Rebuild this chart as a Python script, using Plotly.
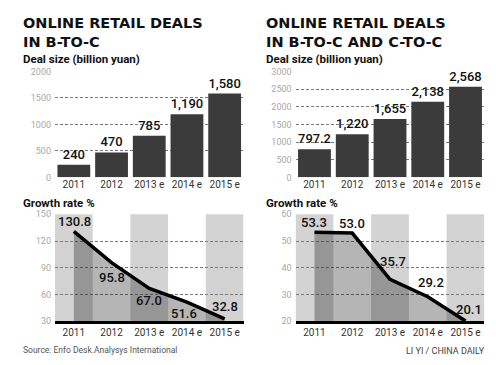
import plotly.graph_objects as go

W, H = 496, 365

categories = ["2011", "2012", "2013 e", "2014 e", "2015 e"]
b2c_deals = [240, 470, 785, 1190, 1580]
all_deals = [797.2, 1220, 1655, 2138, 2568]
b2c_growth = [130.8, 95.8, 67.0, 51.6, 32.8]
all_growth = [53.3, 53.0, 35.7, 29.2, 20.1]

top_ticks_left = [0, 500, 1000, 1500, 2000]
top_ticks_right = [0, 500, 1000, 1500, 2000, 2500, 3000]
bot_ticks_left = [30, 60, 90, 120, 150]
bot_ticks_right = [20, 30, 40, 50, 60]

# label offsets (pixels) for the growth-rate labels, relative to the point
b2c_label_shift = [(1, 10), (0, -15), (0, -12), (-3, -11), (0, 12)]
all_label_shift = [(0, 10), (0, 10), (3, 18), (3, 14), (3, 12)]

idx = list(range(len(categories)))

def px_x(a, b):
    return [a / W, b / W]

def px_y(top, bottom):
    return [1 - bottom / H, 1 - top / H]

LEFT_X = px_x(47, 235.5)
RIGHT_X = px_x(287.6, 476.4)
TOP_Y = px_y(60, 169)
BOT_Y = px_y(207, 317)

fig = go.Figure()

label_font = dict(family="Roboto", size=13, color="#111111", weight=500)

# top bars
fig.add_trace(go.Bar(x=idx, y=b2c_deals, xaxis="x", yaxis="y",
                     marker=dict(color="#3b3b3b", line=dict(width=0)),
                     text=b2c_deals, texttemplate="%{y:,}", textposition="outside",
                     textfont=label_font, cliponaxis=False, width=0.87))
fig.add_trace(go.Bar(x=idx, y=all_deals, xaxis="x2", yaxis="y2",
                     marker=dict(color="#3b3b3b", line=dict(width=0)),
                     text=all_deals, texttemplate="%{y:,}", textposition="outside",
                     textfont=label_font, cliponaxis=False, width=0.87))

# growth lines
for vals, xa, ya in ((b2c_growth, "x3", "y3"), (all_growth, "x4", "y4")):
    fig.add_trace(go.Scatter(x=idx, y=vals, xaxis=xa, yaxis=ya,
                             mode="lines", fill="tozeroy",
                             fillcolor="rgba(0,0,0,0.29)",
                             line=dict(color="black", width=3.5),
                             cliponaxis=False))

# growth labels
for vals, shifts, xa, ya in ((b2c_growth, b2c_label_shift, "x3", "y3"),
                             (all_growth, all_label_shift, "x4", "y4")):
    for i, v in enumerate(vals):
        fig.add_annotation(x=i, y=v, xref=xa, yref=ya, text=f"{v:.1f}",
                           showarrow=False, xshift=shifts[i][0], yshift=shifts[i][1],
                           font=label_font, xanchor="center", yanchor="middle")

# alternating column bands in the growth charts
shapes = []
for xr, yr in (("x3", "y3 domain"), ("x4", "y4 domain")):
    for i in idx:
        if i % 2 == 0:
            shapes.append(dict(type="rect", xref=xr, yref=yr,
                               x0=i - 0.5, x1=i + 0.5, y0=0, y1=1,
                               fillcolor="#d3d3d3", line=dict(width=0),
                               layer="below"))

tickfont_x = dict(family="Roboto", size=10, color="#333333")
tickfont_y = dict(family="Roboto", size=9, color="#a8a8a8")

def xaxis(domain, anchor, line=False):
    d = dict(domain=domain, anchor=anchor, range=[-0.5, 4.5],
             tickmode="array", tickvals=idx, ticktext=categories,
             tickfont=tickfont_x, showgrid=False, zeroline=False,
             ticks="", fixedrange=True)
    if line:
        d.update(showline=True, linecolor="black", linewidth=2.5)
    else:
        d.update(showline=False)
    return d

def yaxis(domain, anchor, rng, ticks):
    return dict(domain=domain, anchor=anchor, range=rng,
                tickmode="array", tickvals=ticks, tickfont=tickfont_y,
                showgrid=True, gridcolor="#7a7a7a", gridwidth=1,
                griddash="3px,2px", zeroline=False, showline=False,
                ticks="", ticklabelstandoff=3)

layout = dict(
    width=W, height=H,
    margin=dict(l=0, r=0, t=0, b=0),
    paper_bgcolor="white", plot_bgcolor="white",
    showlegend=False,
    xaxis=xaxis(LEFT_X, "y"),
    yaxis=yaxis(TOP_Y, "x", [0, 2000], top_ticks_left),
    xaxis2=xaxis(RIGHT_X, "y2"),
    yaxis2=yaxis(TOP_Y, "x2", [0, 3000], top_ticks_right),
    xaxis3=xaxis(LEFT_X, "y3", line=True),
    yaxis3=yaxis(BOT_Y, "x3", [30, 150], bot_ticks_left),
    xaxis4=xaxis(RIGHT_X, "y4", line=True),
    yaxis4=yaxis(BOT_Y, "x4", [20, 60], bot_ticks_right),
    shapes=shapes,
    bargap=0.13,
)
fig.update_layout(**layout)

title_font = dict(family="DejaVu Sans", size=14.5, color="#111111", weight="bold")
sub_font = dict(family="Roboto", size=11.5, color="#111111", weight="bold")

def ann(text, x, y, font, xanchor="left", align="left"):
    fig.add_annotation(text=text, x=x / W, y=1 - y / H, xref="paper", yref="paper",
                       xanchor=xanchor, yanchor="middle", showarrow=False, font=font,
                       borderpad=0, align=align)

ann("ONLINE RETAIL DEALS<br>IN B-TO-C", 14, 20, title_font)
ann("ONLINE RETAIL DEALS<br>IN B-TO-C AND C-TO-C", 257, 20, title_font)
ann("Deal size (billion yuan)", 14, 47.5, sub_font)
ann("Deal size (billion yuan)", 257, 47.5, sub_font)
ann("Growth rate %", 14, 195, sub_font)
ann("Growth rate %", 257, 195, sub_font)
ann("Source: Enfo Desk.Analysys International", 14, 346,
    dict(family="Roboto", size=8.5, color="#555555"))
ann("LI YI / CHINA DAILY", 478, 348,
    dict(family="Roboto", size=9, color="#444444"), xanchor="right")

fig.write_html("out.html")
